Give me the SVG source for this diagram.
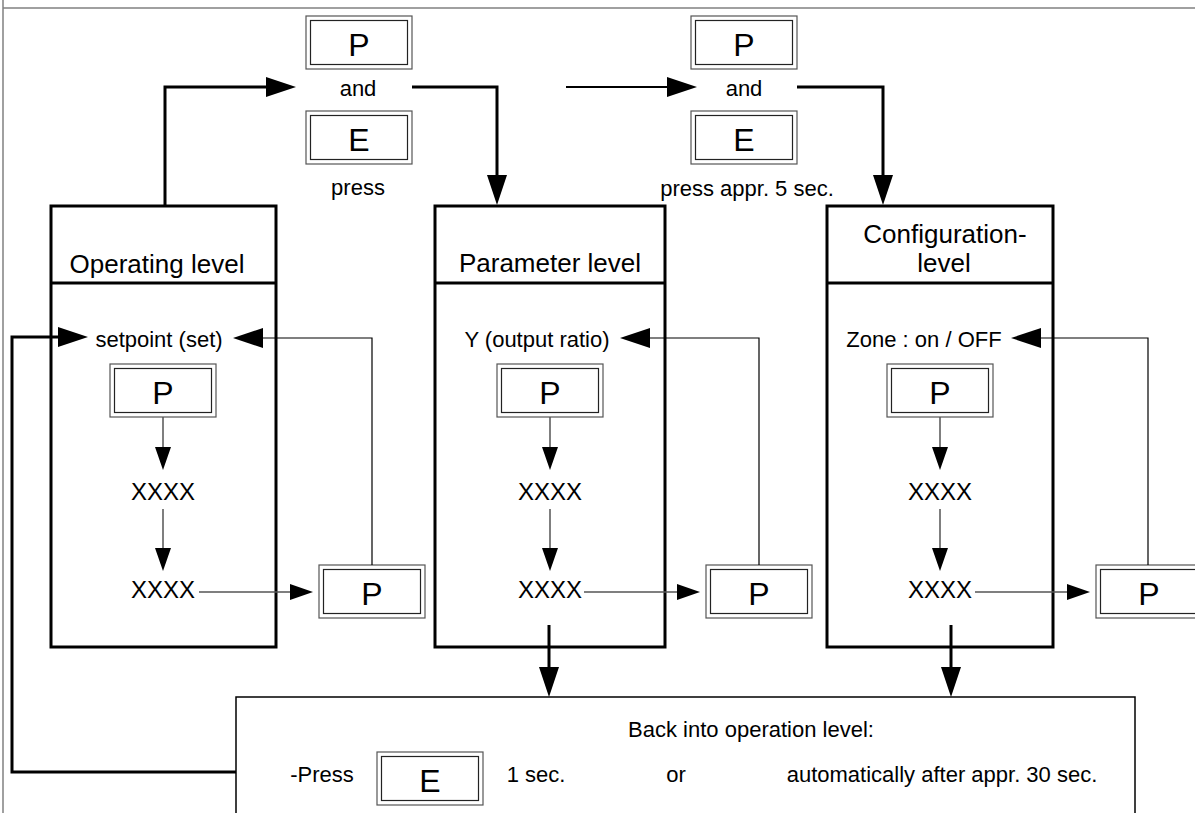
<svg xmlns="http://www.w3.org/2000/svg" width="1195" height="813" viewBox="0 0 1195 813">
<style>
text{font-family:"Liberation Sans",Arial,Helvetica,sans-serif;fill:#000}
.lbl{font-size:22px;text-anchor:middle}
.ttl{font-size:26px;text-anchor:middle}
.xx{font-size:24px;text-anchor:middle}
.key{font-size:32px;text-anchor:middle}
.ko{fill:#fff;stroke:#555;stroke-width:1.2}
.ki{fill:none;stroke:#222;stroke-width:1.2}
.box{fill:#fff;stroke:#000;stroke-width:3}
.thick{fill:none;stroke:#000;stroke-width:3}
.thin{fill:none;stroke:#000;stroke-width:1.2}
.grey{fill:none;stroke:#555;stroke-width:1.5}
.frame{fill:none;stroke:#808080;stroke-width:1.5}
</style>
<defs>
<marker id="big" markerUnits="userSpaceOnUse" markerWidth="30" markerHeight="20" refX="0" refY="10" orient="auto" overflow="visible"><path d="M0,0 L30,10 L0,20 z" fill="#000"/></marker>
<marker id="small" markerUnits="userSpaceOnUse" markerWidth="23" markerHeight="16" refX="0" refY="8" orient="auto" overflow="visible"><path d="M0,0 L23,8 L0,16 z" fill="#000"/></marker>
<g id="keyP"><rect class="ko" x="0" y="0" width="106" height="53"/><rect class="ki" x="4.5" y="4.5" width="97" height="44"/><text class="key" x="53" y="40">P</text></g>
<g id="keyE"><rect class="ko" x="0" y="0" width="106" height="53"/><rect class="ki" x="4.5" y="4.5" width="97" height="44"/><text class="key" x="53" y="40">E</text></g>
</defs>
<rect width="1195" height="813" fill="#fff"/>
<g id="frame">
<line class="frame" x1="3" y1="0" x2="3" y2="813"/>
<line class="frame" x1="3" y1="8" x2="1195" y2="8"/>
</g>
<g id="operating-level">
<rect class="box" x="51" y="206" width="225" height="441"/>
<line class="thick" x1="51" y1="283" x2="276" y2="283"/>
<text class="ttl" x="157" y="273">Operating level</text>
<text class="lbl" x="159" y="347">setpoint (set)</text>
<use href="#keyP" x="110" y="364"/>
<text class="xx" x="163" y="500">XXXX</text>
<text class="xx" x="163" y="598">XXXX</text>
</g>
<g id="parameter-level">
<rect class="box" x="435" y="206" width="230" height="441"/>
<line class="thick" x1="435" y1="283" x2="665" y2="283"/>
<text class="ttl" x="550" y="272">Parameter level</text>
<text class="lbl" x="537" y="347">Y (output ratio)</text>
<use href="#keyP" x="497" y="364"/>
<text class="xx" x="550" y="500">XXXX</text>
<text class="xx" x="550" y="598">XXXX</text>
</g>
<g id="configuration-level">
<rect class="box" x="827" y="206" width="226" height="441"/>
<line class="thick" x1="827" y1="283" x2="1053" y2="283"/>
<text class="ttl" x="945" y="243">Configuration-</text>
<text class="ttl" x="944" y="272">level</text>
<text class="lbl" x="924" y="347">Zone : on / OFF</text>
<use href="#keyP" x="887" y="364"/>
<text class="xx" x="940" y="500">XXXX</text>
<text class="xx" x="940" y="598">XXXX</text>
</g>
<g id="keys-top-1">
<use href="#keyP" x="306" y="16"/>
<text class="lbl" x="358" y="96">and</text>
<use href="#keyE" x="306" y="111"/>
<text class="lbl" x="358" y="195">press</text>
</g>
<g id="keys-top-2">
<use href="#keyP" x="691" y="16"/>
<text class="lbl" x="744" y="96">and</text>
<use href="#keyE" x="691" y="111"/>
<text class="lbl" x="747" y="196">press appr. 5 sec.</text>
</g>
<g id="key-op-return"><use href="#keyP" x="319" y="565"/></g>
<g id="key-par-return"><use href="#keyP" x="706" y="565"/></g>
<g id="key-conf-return"><use href="#keyP" x="1096" y="565"/></g>
<g id="back-box">
<rect x="236" y="697" width="899" height="130" fill="#fff" stroke="#000" stroke-width="1.5"/>
<text class="lbl" x="751" y="737">Back into operation level:</text>
<text class="lbl" x="322" y="782">-Press</text>
<use href="#keyE" x="377" y="752"/>
<text class="lbl" x="536" y="782">1 sec.</text>
<text class="lbl" x="676" y="782">or</text>
<text class="lbl" x="942" y="782">automatically after appr. 30 sec.</text>
</g>
<g id="connectors">
<path class="thick" d="M165,206 V87 H266" marker-end="url(#big)"/>
<path class="thick" d="M412,87 H497 V175" marker-end="url(#big)"/>
<path fill="none" stroke="#000" stroke-width="2" d="M566,87 H667" marker-end="url(#big)"/>
<path class="thick" d="M797,87 H883 V175" marker-end="url(#big)"/>
<path class="thick" d="M236,772 H12 V337 H58" marker-end="url(#big)"/>
<path class="thin" d="M372,565 V338 H263" marker-end="url(#big)"/>
<path class="thin" d="M759,565 V338 H650" marker-end="url(#big)"/>
<path class="thin" d="M1148,565 V338 H1041" marker-end="url(#big)"/>
<path class="grey" d="M163,417 V447" marker-end="url(#small)"/>
<path class="grey" d="M163,509 V548" marker-end="url(#small)"/>
<path class="grey" d="M550,417 V447" marker-end="url(#small)"/>
<path class="grey" d="M550,509 V548" marker-end="url(#small)"/>
<path class="grey" d="M940,417 V447" marker-end="url(#small)"/>
<path class="grey" d="M940,509 V548" marker-end="url(#small)"/>
<path class="grey" d="M199,592 H290" marker-end="url(#small)"/>
<path class="grey" d="M584,592 H677" marker-end="url(#small)"/>
<path class="grey" d="M975,592 H1067" marker-end="url(#small)"/>
<path class="thick" d="M549,625 V667" marker-end="url(#big)"/>
<path class="thick" d="M951,625 V667" marker-end="url(#big)"/>
</g>
</svg>
